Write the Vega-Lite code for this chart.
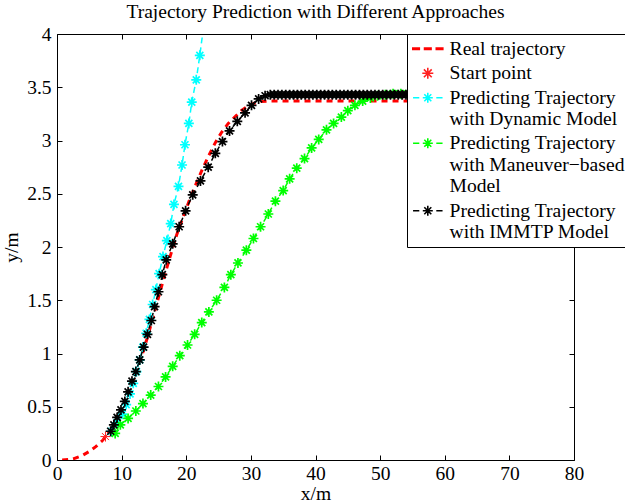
{
  "$schema": "https://vega.github.io/schema/vega-lite/v6.json",
  "width": 517,
  "height": 426,
  "autosize": {"type": "none"},
  "padding": {"left": 57, "top": 34, "right": 51, "bottom": 44},
  "background": "white",
  "config": {
    "font": "Liberation Serif",
    "view": {"stroke": null},
    "legend": {"labelFont": "Liberation Serif"},
    "axis": {
      "grid": false,
      "domainColor": "black",
      "domainWidth": 1,
      "tickColor": "black",
      "tickWidth": 1,
      "tickSize": -5,
      "labelFont": "Liberation Serif",
      "labelFontSize": 19.5,
      "labelColor": "black",
      "labelFlush": false,
      "labelOverlap": false,
      "titleFont": "Liberation Serif",
      "titleFontSize": 19.5,
      "titleFontWeight": "normal",
      "titleColor": "black"
    }
  },
  "title": {
    "text": "Trajectory Prediction with Different Approaches",
    "font": "Liberation Serif",
    "fontSize": 19.5,
    "fontWeight": "normal",
    "color": "black",
    "offset": 2
  },
  "data": {
    "values": [
      {"series": "Real trajectory", "x": 0.8, "y": 0},
      {"series": "Real trajectory", "x": 2.5, "y": 0.01},
      {"series": "Real trajectory", "x": 4, "y": 0.045},
      {"series": "Real trajectory", "x": 5, "y": 0.08},
      {"series": "Real trajectory", "x": 6, "y": 0.125},
      {"series": "Real trajectory", "x": 7, "y": 0.18},
      {"series": "Real trajectory", "x": 7.5, "y": 0.22},
      {"series": "Real trajectory", "x": 8.5, "y": 0.3},
      {"series": "Real trajectory", "x": 9.5, "y": 0.4},
      {"series": "Real trajectory", "x": 10.5, "y": 0.53},
      {"series": "Real trajectory", "x": 11.5, "y": 0.68},
      {"series": "Real trajectory", "x": 12.5, "y": 0.86},
      {"series": "Real trajectory", "x": 13.5, "y": 1.05},
      {"series": "Real trajectory", "x": 14.5, "y": 1.26},
      {"series": "Real trajectory", "x": 15.5, "y": 1.48},
      {"series": "Real trajectory", "x": 16.5, "y": 1.7},
      {"series": "Real trajectory", "x": 17.5, "y": 1.91},
      {"series": "Real trajectory", "x": 18.5, "y": 2.11},
      {"series": "Real trajectory", "x": 19.5, "y": 2.28},
      {"series": "Real trajectory", "x": 20.5, "y": 2.44},
      {"series": "Real trajectory", "x": 21.5, "y": 2.59},
      {"series": "Real trajectory", "x": 22.5, "y": 2.73},
      {"series": "Real trajectory", "x": 23.5, "y": 2.86},
      {"series": "Real trajectory", "x": 24.5, "y": 2.98},
      {"series": "Real trajectory", "x": 25.5, "y": 3.08},
      {"series": "Real trajectory", "x": 26.5, "y": 3.16},
      {"series": "Real trajectory", "x": 27.5, "y": 3.22},
      {"series": "Real trajectory", "x": 28.5, "y": 3.28},
      {"series": "Real trajectory", "x": 29.5, "y": 3.32},
      {"series": "Real trajectory", "x": 30.5, "y": 3.35},
      {"series": "Real trajectory", "x": 31.5, "y": 3.365},
      {"series": "Real trajectory", "x": 33, "y": 3.37},
      {"series": "Real trajectory", "x": 45, "y": 3.37},
      {"series": "Real trajectory", "x": 56, "y": 3.37},

      {"series": "Start point", "x": 7.5, "y": 0.22},

      {"series": "Predicting Trajectory with Dynamic Model", "x": 8.4, "y": 0.27},
      {"series": "Predicting Trajectory with Dynamic Model", "x": 9.3, "y": 0.35},
      {"series": "Predicting Trajectory with Dynamic Model", "x": 10.1, "y": 0.43},
      {"series": "Predicting Trajectory with Dynamic Model", "x": 10.7, "y": 0.52},
      {"series": "Predicting Trajectory with Dynamic Model", "x": 11.3, "y": 0.62},
      {"series": "Predicting Trajectory with Dynamic Model", "x": 11.8, "y": 0.72},
      {"series": "Predicting Trajectory with Dynamic Model", "x": 12.3, "y": 0.83},
      {"series": "Predicting Trajectory with Dynamic Model", "x": 12.8, "y": 0.94},
      {"series": "Predicting Trajectory with Dynamic Model", "x": 13.3, "y": 1.06},
      {"series": "Predicting Trajectory with Dynamic Model", "x": 13.8, "y": 1.19},
      {"series": "Predicting Trajectory with Dynamic Model", "x": 14.3, "y": 1.32},
      {"series": "Predicting Trajectory with Dynamic Model", "x": 14.8, "y": 1.46},
      {"series": "Predicting Trajectory with Dynamic Model", "x": 15.3, "y": 1.6},
      {"series": "Predicting Trajectory with Dynamic Model", "x": 15.8, "y": 1.75},
      {"series": "Predicting Trajectory with Dynamic Model", "x": 16.4, "y": 1.91},
      {"series": "Predicting Trajectory with Dynamic Model", "x": 17.0, "y": 2.06},
      {"series": "Predicting Trajectory with Dynamic Model", "x": 17.6, "y": 2.22},
      {"series": "Predicting Trajectory with Dynamic Model", "x": 18.1, "y": 2.4},
      {"series": "Predicting Trajectory with Dynamic Model", "x": 18.8, "y": 2.57},
      {"series": "Predicting Trajectory with Dynamic Model", "x": 19.35, "y": 2.77},
      {"series": "Predicting Trajectory with Dynamic Model", "x": 19.8, "y": 2.96},
      {"series": "Predicting Trajectory with Dynamic Model", "x": 20.4, "y": 3.16},
      {"series": "Predicting Trajectory with Dynamic Model", "x": 20.85, "y": 3.36},
      {"series": "Predicting Trajectory with Dynamic Model", "x": 21.55, "y": 3.57},
      {"series": "Predicting Trajectory with Dynamic Model", "x": 22.1, "y": 3.8},
      {"series": "Predicting Trajectory with Dynamic Model", "x": 22.6, "y": 4.03},

      {"series": "Predicting Trajectory with Maneuver−based Model", "x": 9.0, "y": 0.25},
      {"series": "Predicting Trajectory with Maneuver−based Model", "x": 9.8, "y": 0.33},
      {"series": "Predicting Trajectory with Maneuver−based Model", "x": 11.0, "y": 0.39},
      {"series": "Predicting Trajectory with Maneuver−based Model", "x": 12.2, "y": 0.46},
      {"series": "Predicting Trajectory with Maneuver−based Model", "x": 13.3, "y": 0.53},
      {"series": "Predicting Trajectory with Maneuver−based Model", "x": 14.5, "y": 0.61},
      {"series": "Predicting Trajectory with Maneuver−based Model", "x": 15.7, "y": 0.69},
      {"series": "Predicting Trajectory with Maneuver−based Model", "x": 16.8, "y": 0.78},
      {"series": "Predicting Trajectory with Maneuver−based Model", "x": 17.9, "y": 0.88},
      {"series": "Predicting Trajectory with Maneuver−based Model", "x": 19.0, "y": 0.98},
      {"series": "Predicting Trajectory with Maneuver−based Model", "x": 20.2, "y": 1.08},
      {"series": "Predicting Trajectory with Maneuver−based Model", "x": 21.3, "y": 1.18},
      {"series": "Predicting Trajectory with Maneuver−based Model", "x": 22.4, "y": 1.29},
      {"series": "Predicting Trajectory with Maneuver−based Model", "x": 23.5, "y": 1.39},
      {"series": "Predicting Trajectory with Maneuver−based Model", "x": 24.7, "y": 1.5},
      {"series": "Predicting Trajectory with Maneuver−based Model", "x": 25.9, "y": 1.62},
      {"series": "Predicting Trajectory with Maneuver−based Model", "x": 26.9, "y": 1.74},
      {"series": "Predicting Trajectory with Maneuver−based Model", "x": 28.0, "y": 1.85},
      {"series": "Predicting Trajectory with Maneuver−based Model", "x": 29.3, "y": 1.97},
      {"series": "Predicting Trajectory with Maneuver−based Model", "x": 30.4, "y": 2.08},
      {"series": "Predicting Trajectory with Maneuver−based Model", "x": 31.5, "y": 2.19},
      {"series": "Predicting Trajectory with Maneuver−based Model", "x": 32.7, "y": 2.31},
      {"series": "Predicting Trajectory with Maneuver−based Model", "x": 33.8, "y": 2.43},
      {"series": "Predicting Trajectory with Maneuver−based Model", "x": 35.0, "y": 2.53},
      {"series": "Predicting Trajectory with Maneuver−based Model", "x": 36.0, "y": 2.64},
      {"series": "Predicting Trajectory with Maneuver−based Model", "x": 37.1, "y": 2.74},
      {"series": "Predicting Trajectory with Maneuver−based Model", "x": 38.3, "y": 2.83},
      {"series": "Predicting Trajectory with Maneuver−based Model", "x": 39.4, "y": 2.93},
      {"series": "Predicting Trajectory with Maneuver−based Model", "x": 40.5, "y": 3.01},
      {"series": "Predicting Trajectory with Maneuver−based Model", "x": 41.7, "y": 3.1},
      {"series": "Predicting Trajectory with Maneuver−based Model", "x": 42.8, "y": 3.16},
      {"series": "Predicting Trajectory with Maneuver−based Model", "x": 44.0, "y": 3.22},
      {"series": "Predicting Trajectory with Maneuver−based Model", "x": 45.0, "y": 3.28},
      {"series": "Predicting Trajectory with Maneuver−based Model", "x": 46.1, "y": 3.33},
      {"series": "Predicting Trajectory with Maneuver−based Model", "x": 47.3, "y": 3.37},
      {"series": "Predicting Trajectory with Maneuver−based Model", "x": 48.5, "y": 3.4},
      {"series": "Predicting Trajectory with Maneuver−based Model", "x": 49.6, "y": 3.42},
      {"series": "Predicting Trajectory with Maneuver−based Model", "x": 50.8, "y": 3.43},
      {"series": "Predicting Trajectory with Maneuver−based Model", "x": 52.0, "y": 3.44},
      {"series": "Predicting Trajectory with Maneuver−based Model", "x": 53.2, "y": 3.44},
      {"series": "Predicting Trajectory with Maneuver−based Model", "x": 54.4, "y": 3.44},
      {"series": "Predicting Trajectory with Maneuver−based Model", "x": 55.6, "y": 3.44},

      {"series": "Predicting Trajectory with IMMTP Model", "x": 8.3, "y": 0.27},
      {"series": "Predicting Trajectory with IMMTP Model", "x": 8.8, "y": 0.33},
      {"series": "Predicting Trajectory with IMMTP Model", "x": 9.3, "y": 0.4},
      {"series": "Predicting Trajectory with IMMTP Model", "x": 9.9, "y": 0.47},
      {"series": "Predicting Trajectory with IMMTP Model", "x": 10.5, "y": 0.55},
      {"series": "Predicting Trajectory with IMMTP Model", "x": 11.0, "y": 0.64},
      {"series": "Predicting Trajectory with IMMTP Model", "x": 11.6, "y": 0.74},
      {"series": "Predicting Trajectory with IMMTP Model", "x": 12.2, "y": 0.83},
      {"series": "Predicting Trajectory with IMMTP Model", "x": 12.8, "y": 0.94},
      {"series": "Predicting Trajectory with IMMTP Model", "x": 13.4, "y": 1.06},
      {"series": "Predicting Trajectory with IMMTP Model", "x": 14.0, "y": 1.18},
      {"series": "Predicting Trajectory with IMMTP Model", "x": 14.6, "y": 1.31},
      {"series": "Predicting Trajectory with IMMTP Model", "x": 15.1, "y": 1.44},
      {"series": "Predicting Trajectory with IMMTP Model", "x": 15.7, "y": 1.58},
      {"series": "Predicting Trajectory with IMMTP Model", "x": 16.3, "y": 1.74},
      {"series": "Predicting Trajectory with IMMTP Model", "x": 16.9, "y": 1.88},
      {"series": "Predicting Trajectory with IMMTP Model", "x": 17.9, "y": 2.03},
      {"series": "Predicting Trajectory with IMMTP Model", "x": 18.9, "y": 2.19},
      {"series": "Predicting Trajectory with IMMTP Model", "x": 19.9, "y": 2.34},
      {"series": "Predicting Trajectory with IMMTP Model", "x": 21.0, "y": 2.49},
      {"series": "Predicting Trajectory with IMMTP Model", "x": 22.2, "y": 2.62},
      {"series": "Predicting Trajectory with IMMTP Model", "x": 23.4, "y": 2.75},
      {"series": "Predicting Trajectory with IMMTP Model", "x": 24.5, "y": 2.88},
      {"series": "Predicting Trajectory with IMMTP Model", "x": 25.6, "y": 2.99},
      {"series": "Predicting Trajectory with IMMTP Model", "x": 26.7, "y": 3.09},
      {"series": "Predicting Trajectory with IMMTP Model", "x": 27.9, "y": 3.18},
      {"series": "Predicting Trajectory with IMMTP Model", "x": 29.1, "y": 3.26},
      {"series": "Predicting Trajectory with IMMTP Model", "x": 30.1, "y": 3.33},
      {"series": "Predicting Trajectory with IMMTP Model", "x": 31.2, "y": 3.39},
      {"series": "Predicting Trajectory with IMMTP Model", "x": 32.2, "y": 3.42},
      {"series": "Predicting Trajectory with IMMTP Model", "x": 33.0, "y": 3.43},
      {"series": "Predicting Trajectory with IMMTP Model", "x": 33.6, "y": 3.43},
      {"series": "Predicting Trajectory with IMMTP Model", "x": 34.2, "y": 3.43},
      {"series": "Predicting Trajectory with IMMTP Model", "x": 34.8, "y": 3.43},
      {"series": "Predicting Trajectory with IMMTP Model", "x": 35.4, "y": 3.43},
      {"series": "Predicting Trajectory with IMMTP Model", "x": 36.0, "y": 3.43},
      {"series": "Predicting Trajectory with IMMTP Model", "x": 36.6, "y": 3.43},
      {"series": "Predicting Trajectory with IMMTP Model", "x": 37.2, "y": 3.43},
      {"series": "Predicting Trajectory with IMMTP Model", "x": 37.8, "y": 3.43},
      {"series": "Predicting Trajectory with IMMTP Model", "x": 38.4, "y": 3.43},
      {"series": "Predicting Trajectory with IMMTP Model", "x": 39.0, "y": 3.43},
      {"series": "Predicting Trajectory with IMMTP Model", "x": 39.6, "y": 3.43},
      {"series": "Predicting Trajectory with IMMTP Model", "x": 40.2, "y": 3.43},
      {"series": "Predicting Trajectory with IMMTP Model", "x": 40.8, "y": 3.43},
      {"series": "Predicting Trajectory with IMMTP Model", "x": 41.4, "y": 3.43},
      {"series": "Predicting Trajectory with IMMTP Model", "x": 42.0, "y": 3.43},
      {"series": "Predicting Trajectory with IMMTP Model", "x": 42.6, "y": 3.43},
      {"series": "Predicting Trajectory with IMMTP Model", "x": 43.2, "y": 3.43},
      {"series": "Predicting Trajectory with IMMTP Model", "x": 43.8, "y": 3.43},
      {"series": "Predicting Trajectory with IMMTP Model", "x": 44.4, "y": 3.43},
      {"series": "Predicting Trajectory with IMMTP Model", "x": 45.0, "y": 3.43},
      {"series": "Predicting Trajectory with IMMTP Model", "x": 45.6, "y": 3.43},
      {"series": "Predicting Trajectory with IMMTP Model", "x": 46.2, "y": 3.43},
      {"series": "Predicting Trajectory with IMMTP Model", "x": 46.8, "y": 3.43},
      {"series": "Predicting Trajectory with IMMTP Model", "x": 47.4, "y": 3.43},
      {"series": "Predicting Trajectory with IMMTP Model", "x": 48.0, "y": 3.43},
      {"series": "Predicting Trajectory with IMMTP Model", "x": 48.6, "y": 3.43},
      {"series": "Predicting Trajectory with IMMTP Model", "x": 49.2, "y": 3.43},
      {"series": "Predicting Trajectory with IMMTP Model", "x": 49.8, "y": 3.43},
      {"series": "Predicting Trajectory with IMMTP Model", "x": 50.4, "y": 3.43},
      {"series": "Predicting Trajectory with IMMTP Model", "x": 51.0, "y": 3.43},
      {"series": "Predicting Trajectory with IMMTP Model", "x": 51.6, "y": 3.43},
      {"series": "Predicting Trajectory with IMMTP Model", "x": 52.2, "y": 3.43},
      {"series": "Predicting Trajectory with IMMTP Model", "x": 52.8, "y": 3.43},
      {"series": "Predicting Trajectory with IMMTP Model", "x": 53.4, "y": 3.43},
      {"series": "Predicting Trajectory with IMMTP Model", "x": 54.0, "y": 3.43},
      {"series": "Predicting Trajectory with IMMTP Model", "x": 54.6, "y": 3.43},
      {"series": "Predicting Trajectory with IMMTP Model", "x": 55.2, "y": 3.43}
    ]
  },
  "layer": [
    {
      "transform": [{"filter": "datum.series == 'Real trajectory'"}],
      "mark": {"type": "line", "color": "#ff0000", "strokeWidth": 3, "strokeDash": [6, 5], "clip": true},
      "encoding": {
        "x": {"field": "x", "type": "quantitative", "scale": {"domain": [0, 80], "nice": false, "zero": false},
              "axis": {"orient": "bottom", "values": [0, 10, 20, 30, 40, 50, 60, 70, 80], "title": "x/m", "labelPadding": 9, "titlePadding": 2}},
        "y": {"field": "y", "type": "quantitative", "scale": {"domain": [0, 4], "nice": false, "zero": false},
              "axis": {"orient": "left", "values": [0, 0.5, 1, 1.5, 2, 2.5, 3, 3.5, 4], "format": "~g", "title": "y/m", "labelPadding": 11, "titlePadding": 5}}
      }
    },
    {
      "transform": [{"filter": "datum.series != 'Real trajectory' && datum.series != 'Start point'"}],
      "mark": {"type": "line", "strokeWidth": 1.5, "strokeDash": [6, 4], "clip": true},
      "encoding": {
        "x": {"field": "x", "type": "quantitative",
              "axis": {"orient": "top", "values": [0, 10, 20, 30, 40, 50, 60, 70, 80], "labels": false, "title": null}},
        "y": {"field": "y", "type": "quantitative",
              "axis": {"orient": "right", "values": [0, 0.5, 1, 1.5, 2, 2.5, 3, 3.5, 4], "labels": false, "title": null}},
        "stroke": {
          "field": "series", "type": "nominal",
          "scale": {
            "domain": ["Predicting Trajectory with Dynamic Model", "Predicting Trajectory with Maneuver−based Model", "Predicting Trajectory with IMMTP Model"],
            "range": ["#00ffff", "#00ff00", "#000000"]
          },
          "legend": null
        }
      }
    },
    {
      "transform": [{"filter": "datum.series != 'Real trajectory' && datum.y <= 4"}],
      "mark": {"type": "point", "filled": false, "opacity": 1, "size": 100, "shape": "M0,-1L0,1M-1,0L1,0M-0.7,-0.7L0.7,0.7M-0.7,0.7L0.7,-0.7"},
      "encoding": {
        "x": {"field": "x", "type": "quantitative", "axis": null},
        "y": {"field": "y", "type": "quantitative", "axis": null},
        "strokeWidth": {"condition": {"test": "datum.series == 'Start point'", "value": 1}, "value": 1.7},
        "color": {
          "field": "series", "type": "nominal",
          "scale": {
            "domain": ["Real trajectory", "Start point", "Predicting Trajectory with Dynamic Model", "Predicting Trajectory with Maneuver−based Model", "Predicting Trajectory with IMMTP Model"],
            "range": ["#ff0000", "#ff2020", "#00ffff", "#00ff00", "#000000"]
          },
          "legend": {
            "orient": "none",
            "legendX": 350,
            "legendY": 0,
            "title": null,
            "strokeColor": "black",
            "fillColor": "white",
            "padding": 5,
            "rowPadding": 3.5,
            "symbolSize": 100,
            "symbolStrokeWidth": 1.6,
            "symbolOffset": 6,
            "symbolType": {"expr": "datum.value == 'Real trajectory' ? 'M-3,-0.14L-1.7,-0.14L-1.7,0.14L-3,0.14ZM-0.65,-0.14L0.65,-0.14L0.65,0.14L-0.65,0.14ZM1.7,-0.14L3,-0.14L3,0.14L1.7,0.14Z' : datum.value == 'Start point' ? 'M0,-1.1L0,1.1M-1.1,0L1.1,0M-0.78,-0.78L0.78,0.78M-0.78,0.78L0.78,-0.78' : 'M-2.95,0L-1.7,0M1.7,0L2.95,0M0,-1L0,1M-1,0L1,0M-0.7,-0.7L0.7,0.7M-0.7,0.7L0.7,-0.7'"},
            "labelOffset": 12,
            "labelFont": "Liberation Serif",
            "labelFontSize": 19.6,
            "labelColor": "black",
            "labelLimit": 400,
            "labelBaseline": "middle",
            "labelExpr": "datum.label == 'Predicting Trajectory with Dynamic Model' ? ['Predicting Trajectory', 'with Dynamic Model'] : datum.label == 'Predicting Trajectory with Maneuver−based Model' ? ['Predicting Trajectory', 'with Maneuver−based', 'Model'] : datum.label == 'Predicting Trajectory with IMMTP Model' ? ['Predicting Trajectory', 'with IMMTP Model'] : datum.label",
            "encode": {
              "labels": {
                "lineHeight": {"value": 21.7},
                "font": {"value": "Liberation Serif"}
              }
            }
          }
        }
      }
    }
  ],
  "resolve": {"axis": {"x": "independent", "y": "independent"}}
}
